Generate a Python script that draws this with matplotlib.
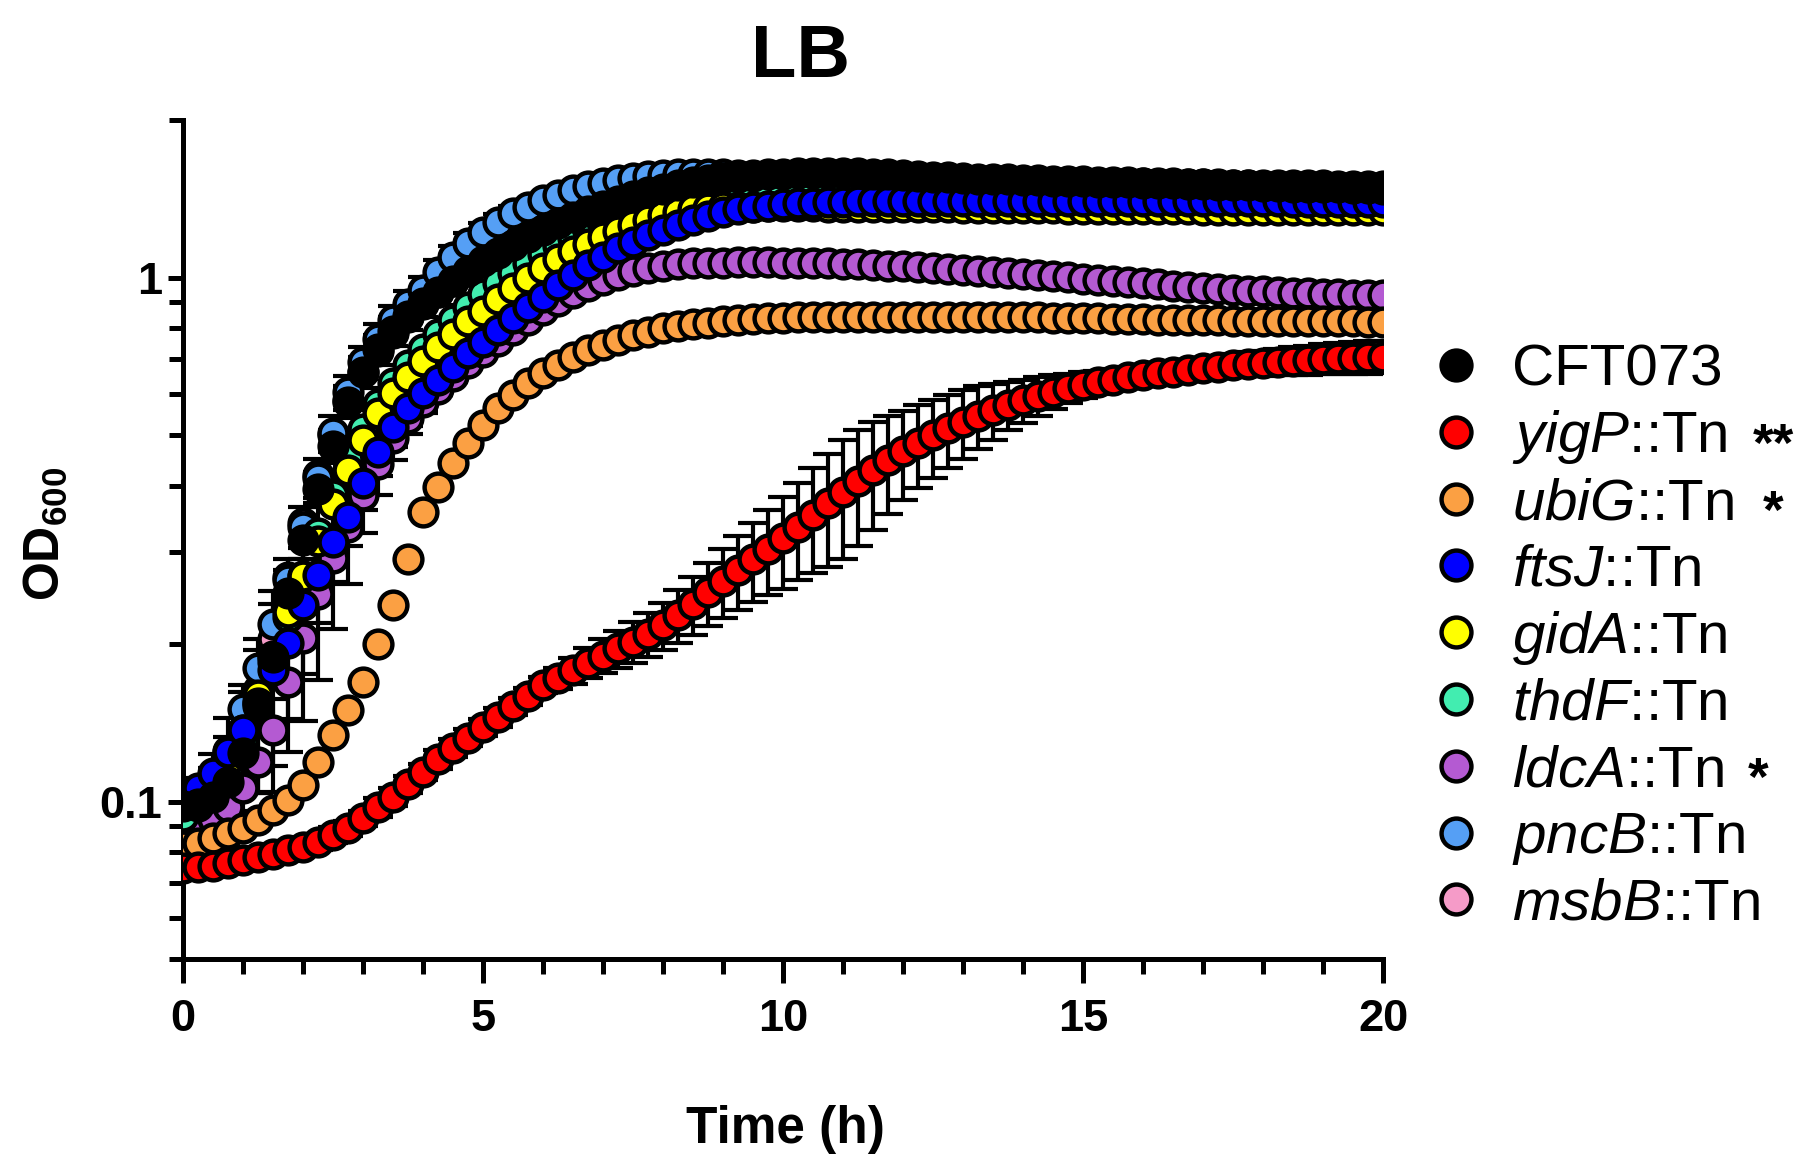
import numpy as np
import matplotlib
matplotlib.use("Agg")
import matplotlib.pyplot as plt
from matplotlib.lines import Line2D
from matplotlib.ticker import NullFormatter

# ---------------- data (OD600, sampled every 15 min from 0 to 20 h) ----------------
time_h = np.arange(0, 20.001, 0.25)

strain_names = ["CFT073", "yigP", "ubiG", "ftsJ", "gidA", "thdF", "ldcA", "pncB", "msbB"]
significance = ["", "**", "*", "", "", "", "*", "", ""]
strain_colors = ["#000000", "#FF0000", "#FBA043", "#0000FF", "#FFFF00",
                 "#42EDB0", "#B45AD2", "#559FF5", "#F59BC8"]

cft073 = [0.098, 0.099, 0.102, 0.109, 0.124,
          0.152, 0.189, 0.250, 0.316,
          0.395, 0.478, 0.580, 0.660,
          0.730, 0.790, 0.845, 0.895,
          0.940, 0.985, 1.030, 1.075,
          1.115, 1.155, 1.195, 1.235,
          1.270, 1.305, 1.338, 1.370,
          1.400, 1.430, 1.455, 1.480,
          1.500, 1.520, 1.535, 1.548,
          1.558, 1.567, 1.574, 1.579,
          1.582, 1.584, 1.585, 1.585,
          1.583, 1.580, 1.576, 1.571,
          1.566, 1.560, 1.554, 1.548,
          1.545, 1.543, 1.540, 1.538,
          1.535, 1.533, 1.530, 1.528,
          1.525, 1.523, 1.520, 1.518,
          1.515, 1.513, 1.510, 1.508,
          1.505, 1.503, 1.500, 1.498,
          1.495, 1.493, 1.491, 1.489,
          1.487, 1.485, 1.483, 1.480]

yigP = [0.0746, 0.0751, 0.0755, 0.0763, 0.0774,
        0.0785, 0.0795, 0.0809, 0.0820,
        0.0839, 0.0864, 0.0890, 0.0930,
        0.0975, 0.1022, 0.1080, 0.1140,
        0.1205, 0.1265, 0.1325, 0.1385,
        0.1450, 0.1520, 0.1590, 0.1670,
        0.172, 0.178, 0.184, 0.190,
        0.196, 0.202, 0.209, 0.217,
        0.227, 0.238, 0.251, 0.264,
        0.277, 0.290, 0.304, 0.318,
        0.335, 0.353, 0.371, 0.390,
        0.410, 0.430, 0.449, 0.467,
        0.484, 0.500, 0.516, 0.530,
        0.545, 0.559, 0.572, 0.584,
        0.595, 0.606, 0.616, 0.625,
        0.632, 0.639, 0.646, 0.652,
        0.657, 0.662, 0.667, 0.672,
        0.676, 0.680, 0.684, 0.688,
        0.691, 0.694, 0.697, 0.700,
        0.702, 0.704, 0.706, 0.707]

ubiG = [0.0821, 0.0833, 0.0852, 0.0871, 0.0890,
        0.0923, 0.0964, 0.1007, 0.1076,
        0.1192, 0.1341, 0.1496, 0.1694,
        0.2000, 0.2374, 0.2900, 0.3570,
        0.3990, 0.4424, 0.4831, 0.5236,
        0.5633, 0.5971, 0.6288, 0.6570,
        0.6813, 0.7068, 0.7278, 0.7441,
        0.7605, 0.7774, 0.7889, 0.8006,
        0.810, 0.816, 0.821, 0.826,
        0.830, 0.833, 0.836, 0.838,
        0.840, 0.841, 0.842, 0.843,
        0.843, 0.843, 0.843, 0.843,
        0.843, 0.843, 0.842, 0.842,
        0.842, 0.841, 0.841, 0.840,
        0.840, 0.839, 0.838, 0.837,
        0.836, 0.835, 0.834, 0.833,
        0.832, 0.831, 0.830, 0.830,
        0.829, 0.828, 0.828, 0.827,
        0.827, 0.826, 0.826, 0.825,
        0.825, 0.825, 0.824, 0.824]

ftsJ = [0.1022, 0.1060, 0.1133, 0.1246, 0.1370,
        0.1540, 0.1784, 0.2006, 0.2374,
        0.2708, 0.3135, 0.3500, 0.4050,
        0.4656, 0.5195, 0.5633, 0.6016,
        0.6380, 0.6760, 0.7173, 0.7551,
        0.7947, 0.8364, 0.8803, 0.9199,
        0.9680, 1.0120, 1.0570, 1.0970,
        1.1380, 1.1710, 1.2060, 1.2330,
        1.2610, 1.2890, 1.3120, 1.3330,
        1.3500, 1.3620, 1.3720, 1.3800,
        1.3860, 1.3900, 1.3930, 1.3960,
        1.3980, 1.3990, 1.4000, 1.4010,
        1.4020, 1.4020, 1.4030, 1.4030,
        1.4030, 1.4030, 1.4030, 1.4030,
        1.4030, 1.4020, 1.4020, 1.4020,
        1.4020, 1.4010, 1.4010, 1.4010,
        1.4000, 1.4000, 1.4000, 1.3990,
        1.3990, 1.3990, 1.3980, 1.3980,
        1.3980, 1.3970, 1.3970, 1.3970,
        1.3960, 1.3960, 1.3950, 1.3950]

gidA = [0.100, 0.104, 0.110, 0.120, 0.137,
        0.160, 0.190, 0.230, 0.270,
        0.315, 0.370, 0.430, 0.490,
        0.551, 0.603, 0.647, 0.692,
        0.737, 0.780, 0.827, 0.865,
        0.909, 0.957, 1.000, 1.045,
        1.084, 1.125, 1.158, 1.197,
        1.228, 1.260, 1.289, 1.317,
        1.337, 1.350, 1.357, 1.362,
        1.365, 1.367, 1.368, 1.368,
        1.368, 1.368, 1.367, 1.367,
        1.366, 1.365, 1.365, 1.364,
        1.363, 1.362, 1.362, 1.361,
        1.360, 1.359, 1.358, 1.358,
        1.357, 1.356, 1.355, 1.355,
        1.354, 1.353, 1.352, 1.352,
        1.351, 1.350, 1.350, 1.349,
        1.349, 1.348, 1.348, 1.347,
        1.347, 1.346, 1.346, 1.345,
        1.345, 1.345, 1.344, 1.344]

thdF = [0.094, 0.098, 0.104, 0.114, 0.130,
        0.155, 0.185, 0.225, 0.270,
        0.325, 0.385, 0.450, 0.515,
        0.575, 0.630, 0.680, 0.730,
        0.780, 0.830, 0.880, 0.930,
        0.975, 1.020, 1.065, 1.110,
        1.150, 1.190, 1.230, 1.265,
        1.295, 1.325, 1.350, 1.375,
        1.395, 1.412, 1.426, 1.438,
        1.448, 1.456, 1.462, 1.467,
        1.470, 1.472, 1.473, 1.474,
        1.474, 1.474, 1.473, 1.472,
        1.471, 1.470, 1.469, 1.468,
        1.467, 1.466, 1.465, 1.464,
        1.463, 1.462, 1.461, 1.460,
        1.459, 1.458, 1.457, 1.456,
        1.455, 1.454, 1.453, 1.452,
        1.451, 1.450, 1.449, 1.448,
        1.447, 1.446, 1.445, 1.444,
        1.443, 1.442, 1.441, 1.440]

ldcA = [0.0887, 0.0900, 0.0925, 0.0975, 0.1060,
        0.1190, 0.1370, 0.1690, 0.2050,
        0.2490, 0.2920, 0.3350, 0.3850,
        0.4400, 0.4950, 0.5400, 0.5780,
        0.6120, 0.6480, 0.6860, 0.7220,
        0.7580, 0.7950, 0.8320, 0.8680,
        0.9020, 0.9350, 0.9630, 0.9900,
        1.0120, 1.0300, 1.0450, 1.0550,
        1.0600, 1.0650, 1.0680, 1.0690,
        1.0700, 1.0700, 1.0700, 1.0690,
        1.0680, 1.0670, 1.0650, 1.0630,
        1.0610, 1.0580, 1.0550, 1.0520,
        1.0480, 1.0440, 1.0400, 1.0360,
        1.0310, 1.0260, 1.0210, 1.0160,
        1.0110, 1.0060, 1.0010, 0.9960,
        0.9910, 0.9860, 0.9810, 0.9760,
        0.9710, 0.9660, 0.9610, 0.9570,
        0.9530, 0.9490, 0.9450, 0.9420,
        0.9390, 0.9360, 0.9330, 0.9310,
        0.9290, 0.9280, 0.9270, 0.9260]

pncB = [0.100, 0.104, 0.110, 0.125, 0.150,
        0.180, 0.218, 0.265, 0.335,
        0.415, 0.505, 0.605, 0.690,
        0.765, 0.830, 0.890, 0.947,
        1.027, 1.097, 1.163, 1.224,
        1.279, 1.327, 1.366, 1.406,
        1.438, 1.468, 1.495, 1.518,
        1.537, 1.552, 1.564, 1.572,
        1.577, 1.578, 1.577, 1.575,
        1.572, 1.569, 1.566, 1.563,
        1.560, 1.557, 1.554, 1.551,
        1.548, 1.545, 1.542, 1.539,
        1.536, 1.533, 1.530, 1.527,
        1.524, 1.521, 1.518, 1.515,
        1.512, 1.509, 1.506, 1.503,
        1.500, 1.497, 1.494, 1.491,
        1.488, 1.485, 1.482, 1.479,
        1.476, 1.473, 1.470, 1.467,
        1.464, 1.461, 1.458, 1.455,
        1.452, 1.450, 1.448, 1.446]

msbB = [0.097, 0.099, 0.104, 0.114, 0.132,
        0.163, 0.204, 0.268, 0.340,
        0.420, 0.500, 0.585, 0.660,
        0.725, 0.785, 0.840, 0.890,
        0.938, 0.985, 1.030, 1.073,
        1.112, 1.150, 1.187, 1.222,
        1.256, 1.290, 1.322, 1.352,
        1.381, 1.408, 1.433, 1.456,
        1.477, 1.496, 1.512, 1.526,
        1.537, 1.546, 1.552, 1.556,
        1.558, 1.559, 1.559, 1.558,
        1.556, 1.554, 1.551, 1.548,
        1.545, 1.542, 1.539, 1.536,
        1.533, 1.531, 1.529, 1.527,
        1.525, 1.523, 1.521, 1.519,
        1.517, 1.516, 1.514, 1.513,
        1.511, 1.510, 1.509, 1.508,
        1.507, 1.506, 1.505, 1.504,
        1.503, 1.502, 1.501, 1.500,
        1.499, 1.498, 1.497, 1.496]

# standard deviations (only series with visible error bars)
err_cft073 = [0.003, 0.004, 0.006, 0.008, 0.010,
              0.012, 0.015, 0.020, 0.025,
              0.030, 0.035, 0.040, 0.045,
              0.048, 0.050, 0.052, 0.053,
              0.054, 0.054, 0.053, 0.052,
              0.050, 0.048, 0.046, 0.044,
              0.042, 0.040, 0.038, 0.036,
              0.034, 0.032, 0.030, 0.028,
              0.026, 0.025, 0.024, 0.023,
              0.022, 0.021, 0.020, 0.020,
              0.020, 0.020, 0.020, 0.020,
              0.020, 0.020, 0.020, 0.020,
              0.020, 0.020, 0.020, 0.020,
              0.020, 0.020, 0.020, 0.020,
              0.020, 0.020, 0.020, 0.020,
              0.020, 0.020, 0.020, 0.020,
              0.020, 0.020, 0.020, 0.020,
              0.020, 0.020, 0.020, 0.020,
              0.020, 0.020, 0.020, 0.020,
              0.020, 0.020, 0.020, 0.020]

err_yigP = [0.002, 0.002, 0.002, 0.002, 0.002,
            0.002, 0.002, 0.002, 0.002,
            0.003, 0.003, 0.003, 0.003,
            0.004, 0.004, 0.004, 0.004,
            0.005, 0.005, 0.005, 0.005,
            0.006, 0.006, 0.006, 0.006,
            0.008, 0.010, 0.012, 0.014,
            0.016, 0.018, 0.020, 0.022,
            0.026, 0.030, 0.035, 0.040,
            0.045, 0.050, 0.056, 0.063,
            0.070, 0.080, 0.090, 0.100,
            0.102, 0.100, 0.095, 0.090,
            0.087, 0.085, 0.082, 0.080,
            0.075, 0.068, 0.061, 0.055,
            0.050, 0.045, 0.040, 0.035,
            0.032, 0.030, 0.028, 0.026,
            0.026, 0.027, 0.028, 0.030,
            0.032, 0.034, 0.036, 0.038,
            0.040, 0.042, 0.044, 0.046,
            0.048, 0.050, 0.050, 0.050]

err_ftsJ = [0.003, 0.005, 0.010, 0.020, 0.030,
            0.050, 0.074, 0.076, 0.095,
            0.100, 0.100, 0.090, 0.080,
            0.080, 0.070, 0.060, 0.050,
            0.040, 0.032, 0.026, 0.020,
            0.016, 0.014, 0.012, 0.012,
            0.012, 0.012, 0.012, 0.012,
            0.012, 0.012, 0.012, 0.012,
            0.012, 0.012, 0.012, 0.012,
            0.012, 0.012, 0.012, 0.012,
            0.012, 0.012, 0.012, 0.012,
            0.012, 0.012, 0.012, 0.012,
            0.012, 0.012, 0.012, 0.012,
            0.012, 0.012, 0.012, 0.012,
            0.012, 0.012, 0.012, 0.012,
            0.012, 0.012, 0.012, 0.012,
            0.012, 0.012, 0.012, 0.012,
            0.012, 0.012, 0.012, 0.012,
            0.012, 0.012, 0.012, 0.012,
            0.012, 0.012, 0.012, 0.012]

err_ldcA = [0.002, 0.003, 0.004, 0.006, 0.010,
            0.015, 0.020, 0.025, 0.030,
            0.030, 0.030, 0.028, 0.025,
            0.022, 0.020, 0.018, 0.016,
            0.015, 0.015, 0.015, 0.015,
            0.015, 0.015, 0.015, 0.015,
            0.015, 0.015, 0.015, 0.015,
            0.015, 0.015, 0.015, 0.015,
            0.015, 0.015, 0.015, 0.015,
            0.015, 0.015, 0.015, 0.015,
            0.015, 0.015, 0.015, 0.015,
            0.015, 0.015, 0.015, 0.015,
            0.015, 0.015, 0.015, 0.015,
            0.015, 0.015, 0.015, 0.015,
            0.015, 0.015, 0.015, 0.015,
            0.015, 0.015, 0.015, 0.015,
            0.015, 0.015, 0.015, 0.015,
            0.015, 0.015, 0.015, 0.015,
            0.015, 0.015, 0.015, 0.015,
            0.015, 0.015, 0.015, 0.015]

err_pncB = [0.003, 0.004, 0.006, 0.008, 0.012,
            0.015, 0.020, 0.025, 0.030,
            0.035, 0.040, 0.045, 0.048,
            0.050, 0.052, 0.054, 0.055,
            0.055, 0.054, 0.052, 0.050,
            0.047, 0.044, 0.040, 0.036,
            0.032, 0.028, 0.025, 0.022,
            0.020, 0.020, 0.020, 0.020,
            0.020, 0.020, 0.020, 0.020,
            0.020, 0.020, 0.020, 0.020,
            0.020, 0.020, 0.020, 0.020,
            0.020, 0.020, 0.020, 0.020,
            0.020, 0.020, 0.020, 0.020,
            0.020, 0.020, 0.020, 0.020,
            0.020, 0.020, 0.020, 0.020,
            0.020, 0.020, 0.020, 0.020,
            0.020, 0.020, 0.020, 0.020,
            0.020, 0.020, 0.020, 0.020,
            0.020, 0.020, 0.020, 0.020,
            0.020, 0.020, 0.020, 0.020]

series_values = [cft073, yigP, ubiG, ftsJ, gidA, thdF, ldcA, pncB, msbB]
series_errors = [err_cft073, err_yigP, None, err_ftsJ, None, None, err_ldcA, err_pncB, None]

y_major = [0.1, 1]
y_major_labels = ["0.1", "1"]
y_minor = [0.05, 0.06, 0.07, 0.08, 0.09, 0.2, 0.3, 0.4, 0.5, 0.6, 0.7, 0.8, 0.9, 2]
x_major = [0, 5, 10, 15, 20]
x_minor = list(range(0, 21))

# ---------------- style ----------------
plt.rcParams["font.family"] = ["Liberation Sans", "DejaVu Sans"]
plt.rcParams["mathtext.fontset"] = "custom"
plt.rcParams["mathtext.rm"] = "Liberation Sans"
plt.rcParams["mathtext.it"] = "Liberation Sans:italic"
plt.rcParams["mathtext.bf"] = "Liberation Sans:bold"

W, H = 1811, 1158
fig = plt.figure(figsize=(W / 100, H / 100), dpi=100)
ax_left, ax_right, ax_top, ax_bottom = 183.3, 1383.3, 120.0, 959.3
ax = fig.add_axes([ax_left / W, 1 - ax_bottom / H, (ax_right - ax_left) / W, (ax_bottom - ax_top) / H])

ms, mew = 20, 3.2
# error bars first (beneath markers)
for vals, errs in zip(series_values[::-1], series_errors[::-1]):
    if errs is None:
        continue
    ax.errorbar(time_h, vals, yerr=errs, fmt="none", ecolor="black",
                elinewidth=3.0, capsize=10.8, capthick=3.0, zorder=2)

# markers: first strain drawn last (on top)
n = len(series_values)
for k in range(n - 1, -1, -1):
    ax.plot(time_h, series_values[k], ls="none", marker="o", ms=ms,
            mfc=strain_colors[k], mec="black", mew=mew, zorder=3 + (n - k))

ax.set_yscale("log")
ax.set_ylim(0.05, 2)
ax.set_xlim(0, 20)
ax.set_yticks(y_major)
ax.set_yticklabels(y_major_labels)
ax.set_yticks(y_minor, minor=True)
ax.yaxis.set_minor_formatter(NullFormatter())
ax.set_xticks(x_major)
ax.set_xticklabels([str(v) for v in x_major])
ax.set_xticks(x_minor, minor=True)

for s in ["top", "right"]:
    ax.spines[s].set_visible(False)
for s in ["left", "bottom"]:
    ax.spines[s].set_linewidth(3.6)

ax.tick_params(axis="x", which="major", length=17.3, width=3.6, labelsize=32.5, pad=11)
ax.tick_params(axis="x", which="minor", length=11, width=3.6)
ax.tick_params(axis="y", which="major", length=10.5, width=3.6, labelsize=32.5, pad=5)
ax.tick_params(axis="y", which="minor", length=10, width=3.6)
for lbl in ax.get_xticklabels() + ax.get_yticklabels():
    lbl.set_fontweight("bold")

# titles / axis labels
fig.text(800 / W, 1 - 77 / H, "LB", ha="center", va="baseline", fontsize=53.5, fontweight="bold")
fig.text(785 / W, 1 - 1143.5 / H, "Time (h)", ha="center", va="baseline", fontsize=37, fontweight="bold")
fig.text(60 / W, 1 - 534 / H, r"$\mathbf{OD_{600}}$", rotation=90, rotation_mode="anchor",
         ha="center", va="baseline", fontsize=36)

# legend (manual)
row0, dy = 365.0, 66.8
marker_x, text_x = 1456 / W, 1512 / W
star_x = {"**": 1753, "*": 1763}
for i, (name, col, sig) in enumerate(zip(strain_names, strain_colors, significance)):
    yc = row0 + i * dy
    fig.add_artist(Line2D([marker_x], [1 - yc / H], transform=fig.transFigure, ls="none",
                          marker="o", ms=21.5, mfc=col, mec="black", mew=mew))
    label = name if i == 0 else r"$\mathit{" + name + r"}$::Tn"
    fig.text(text_x, 1 - (yc + 20.5) / H, label, ha="left", va="baseline", fontsize=42)
    if sig:
        sx = star_x[sig] if name != "ldcA" else 1748
        fig.text(sx / W, 1 - (yc + 29) / H, sig, ha="left", va="baseline",
                 fontsize=38, fontweight="bold")

fig.savefig("out.png", dpi=100)
